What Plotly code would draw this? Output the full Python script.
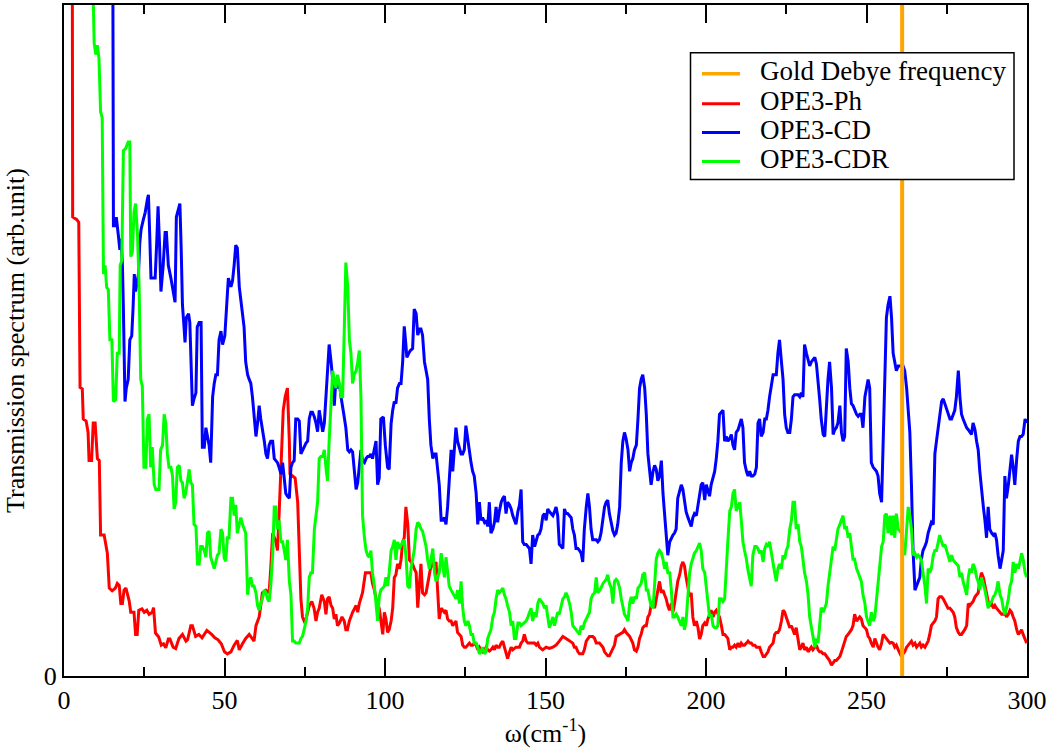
import plotly.graph_objects as go

# Transmission spectra (x in cm^-1, y in arb. units, axis top = 1)
DEBYE_FREQ = 261.1

OPE3_PH = [
    (2.0, 3.0), (2.7, 0.684), (4.0, 0.680), (4.6, 0.676), (5.0, 0.43), (5.7, 0.428), (6.0, 0.383), (6.9, 0.380),
    (7.5, 0.363), (7.8, 0.321), (8.6, 0.321), (9.1, 0.377), (9.7, 0.377), (10.4, 0.324), (11.0, 0.321), (11.4, 0.21),
    (12.5, 0.21), (13.5, 0.183), (14.1, 0.131), (15.0, 0.127), (16.0, 0.131), (16.6, 0.138), (17.2, 0.135), (17.7, 0.108),
    (18.2, 0.108), (18.7, 0.128), (19.3, 0.131), (20.3, 0.112), (20.8, 0.095), (21.8, 0.095), (22.3, 0.062), (22.8, 0.062),
    (23.3, 0.098), (24.3, 0.100), (25.0, 0.095), (25.8, 0.098), (26.5, 0.092), (27.5, 0.095), (27.9, 0.102), (28.5, 0.064),
    (29.5, 0.058), (30.3, 0.046), (31.0, 0.048), (31.7, 0.042), (32.5, 0.055), (33.0, 0.055), (34.0, 0.043), (34.8, 0.041),
    (35.8, 0.056), (36.9, 0.062), (38.0, 0.052), (38.5, 0.054), (39.5, 0.075), (40.0, 0.075), (41.0, 0.059), (42.0, 0.062),
    (43.0, 0.057), (44.5, 0.068), (46.0, 0.062), (47.0, 0.057), (48.0, 0.054), (49.0, 0.048), (50.0, 0.036),
    (50.9, 0.033), (52.0, 0.036), (53.0, 0.046), (54.0, 0.053), (54.6, 0.039), (55.6, 0.048), (56.6, 0.056), (57.7, 0.062),
    (58.7, 0.055), (59.2, 0.052), (59.8, 0.075), (60.8, 0.088), (61.3, 0.105), (61.8, 0.124), (62.9, 0.128), (63.9, 0.124),
    (64.4, 0.16), (65.0, 0.213), (66.0, 0.2), (66.5, 0.187), (67.0, 0.24), (67.6, 0.318), (68.3, 0.396), (68.9, 0.416),
    (69.6, 0.429), (70.2, 0.35), (70.4, 0.301), (71.2, 0.298), (72.0, 0.295), (72.8, 0.259), (73.3, 0.187), (73.8, 0.115),
    (74.3, 0.088), (74.8, 0.082), (75.4, 0.085), (75.9, 0.095), (76.4, 0.105), (77.2, 0.111), (77.9, 0.101), (78.5, 0.082),
    (79.0, 0.095), (79.5, 0.101), (80.3, 0.121), (81.1, 0.111), (81.6, 0.092), (82.1, 0.115), (82.6, 0.118), (83.2, 0.105),
    (83.7, 0.101), (84.2, 0.085), (84.7, 0.092), (85.2, 0.075), (85.8, 0.079), (86.6, 0.088), (87.3, 0.082), (87.8, 0.069),
    (88.3, 0.069), (88.9, 0.082), (89.9, 0.095), (91.0, 0.105), (91.5, 0.095), (92.0, 0.108), (93.0, 0.124), (93.9, 0.154),
    (94.9, 0.154), (95.6, 0.154), (96.1, 0.138), (96.7, 0.128), (97.2, 0.115), (98.2, 0.101),
    (99.3, 0.062), (99.8, 0.095), (100.3, 0.085), (100.8, 0.065), (101.3, 0.069), (101.9, 0.082), (102.4, 0.101), (102.9, 0.147),
    (103.4, 0.151), (103.9, 0.167), (104.5, 0.16), (105.0, 0.173), (105.5, 0.2), (106.0, 0.206), (106.5, 0.252), (107.1, 0.226),
    (107.6, 0.173), (108.1, 0.17), (108.6, 0.167), (109.1, 0.16), (109.7, 0.154), (110.2, 0.102), (110.7, 0.141), (111.2, 0.167),
    (111.7, 0.124), (112.3, 0.121), (112.8, 0.124), (113.3, 0.138), (113.8, 0.151), (114.3, 0.164), (114.9, 0.167), (115.4, 0.16),
    (115.9, 0.17), (116.4, 0.131), (116.9, 0.085), (117.5, 0.101), (118.0, 0.098), (118.5, 0.095), (119.0, 0.098), (119.5, 0.085),
    (120.0, 0.082), (120.6, 0.082), (121.1, 0.075), (121.6, 0.079), (122.1, 0.082), (122.6, 0.065), (123.2, 0.062), (123.7, 0.059),
    (124.2, 0.046), (124.7, 0.043), (125.2, 0.043), (125.8, 0.046), (126.3, 0.049), (126.8, 0.046), (127.3, 0.046), (127.8, 0.049),
    (128.4, 0.046), (128.9, 0.039), (129.4, 0.043), (129.9, 0.039), (130.4, 0.036), (131.0, 0.039), (131.5, 0.043), (132.0, 0.039),
    (132.5, 0.037), (133.0, 0.039), (133.6, 0.043), (134.1, 0.039), (134.6, 0.046), (135.1, 0.043), (135.6, 0.043), (136.2, 0.049),
    (136.7, 0.052), (137.2, 0.043), (137.7, 0.036), (138.2, 0.026), (138.8, 0.036), (139.3, 0.043), (139.8, 0.039), (140.8, 0.043),
    (141.9, 0.043), (142.4, 0.049), (142.9, 0.052), (143.4, 0.062), (144.0, 0.052), (144.5, 0.049), (145.5, 0.049), (146.6, 0.049),
    (147.1, 0.046), (147.6, 0.049),
    (148.1, 0.043), (149.1, 0.039), (150.2, 0.043), (151.2, 0.041), (152.3, 0.043), (153.3, 0.046), (154.3, 0.052), (155.4, 0.059),
    (156.4, 0.056), (157.5, 0.052), (158.5, 0.049), (159.0, 0.043), (159.5, 0.043), (160.1, 0.036), (160.6, 0.033), (161.6, 0.033),
    (162.1, 0.039), (162.7, 0.052), (163.7, 0.059), (164.7, 0.059), (165.3, 0.056), (165.8, 0.049), (166.8, 0.049), (167.9, 0.043),
    (168.4, 0.036), (168.9, 0.033), (169.4, 0.03), (169.9, 0.03), (170.5, 0.036), (171.0, 0.039), (171.5, 0.046), (172.0, 0.059),
    (173.1, 0.062), (174.1, 0.065), (174.6, 0.069), (175.1, 0.065), (176.2, 0.059), (177.2, 0.049), (177.7, 0.039), (178.3, 0.037),
    (178.8, 0.043), (179.3, 0.056), (179.8, 0.062), (180.3, 0.072), (180.9, 0.075), (181.4, 0.075), (181.9, 0.088), (182.4, 0.092),
    (182.9, 0.105), (183.5, 0.111), (184.0, 0.101), (184.5, 0.115), (185.0, 0.128), (185.5, 0.141), (186.1, 0.124), (186.6, 0.128),
    (187.1, 0.121), (187.6, 0.115), (188.1, 0.105), (188.6, 0.098), (189.2, 0.108), (189.7, 0.095), (190.2, 0.108), (190.7, 0.128),
    (191.2, 0.141), (191.8, 0.151), (192.3, 0.164), (192.8, 0.17), (193.3, 0.164), (193.8, 0.147), (194.4, 0.131), (194.9, 0.118),
    (195.4, 0.124), (195.9, 0.088), (196.4, 0.075), (197.0, 0.082), (197.5, 0.072),
    (198.0, 0.055), (198.5, 0.062), (199.0, 0.075), (199.6, 0.079), (200.1, 0.075), (200.6, 0.085), (201.1, 0.092), (201.6, 0.098),
    (202.2, 0.088), (202.7, 0.095), (203.2, 0.098), (203.7, 0.092), (204.2, 0.088), (204.8, 0.075), (205.3, 0.062), (205.8, 0.062),
    (206.3, 0.059), (206.8, 0.056), (207.4, 0.039), (207.9, 0.043), (208.4, 0.043), (208.9, 0.046), (209.4, 0.043), (210.0, 0.049),
    (210.5, 0.043), (211.0, 0.049), (211.5, 0.046), (212.0, 0.046), (212.6, 0.049), (213.1, 0.052), (213.6, 0.049), (214.1, 0.049),
    (214.6, 0.046), (215.2, 0.046), (215.7, 0.043), (216.2, 0.043), (216.7, 0.043), (217.2, 0.036), (217.8, 0.029), (218.3, 0.029),
    (218.8, 0.033), (219.3, 0.036), (219.8, 0.043), (220.4, 0.046), (220.9, 0.049), (221.4, 0.062), (221.9, 0.065), (222.4, 0.065),
    (222.9, 0.069), (223.5, 0.082), (224.0, 0.098), (224.5, 0.095), (225.0, 0.088), (225.5, 0.082), (226.1, 0.072), (226.6, 0.075),
    (227.1, 0.069), (227.6, 0.062), (228.1, 0.072), (228.7, 0.056), (229.2, 0.039), (229.7, 0.043), (230.2, 0.049), (230.7, 0.039),
    (231.3, 0.043), (231.8, 0.036), (232.3, 0.039), (232.8, 0.043), (233.3, 0.039), (233.9, 0.043), (234.4, 0.046), (234.9, 0.039),
    (235.4, 0.036), (235.9, 0.036), (236.5, 0.033), (237.0, 0.033), (237.5, 0.029), (238.0, 0.026), (238.5, 0.023), (239.1, 0.016),
    (239.6, 0.02), (240.1, 0.023), (240.6, 0.023), (241.1, 0.026), (241.7, 0.029), (242.2, 0.036), (242.7, 0.043), (243.2, 0.049),
    (243.7, 0.059), (244.3, 0.062), (244.8, 0.065), (245.3, 0.069), (245.8, 0.075), (246.3, 0.092), (246.9, 0.082), (247.4, 0.085),
    (247.9, 0.088), (248.4, 0.085), (248.9, 0.075), (249.5, 0.072), (250.0, 0.069), (250.5, 0.059), (251.0, 0.056), (251.5, 0.049),
    (252.1, 0.043), (252.6, 0.056), (253.1, 0.049), (253.6, 0.043), (254.1, 0.039), (254.7, 0.049), (255.2, 0.062), (255.7, 0.059),
    (256.2, 0.056), (256.7, 0.052), (257.3, 0.049), (257.8, 0.05), (258.3, 0.049), (258.8, 0.043), (259.3, 0.046), (259.9, 0.039),
    (260.4, 0.033), (260.9, 0.029), (261.4, 0.033), (261.9, 0.036), (262.5, 0.043), (263.0, 0.046), (263.5, 0.049), (264.0, 0.052),
    (264.5, 0.046), (265.1, 0.049), (265.6, 0.043), (266.1, 0.046), (266.6, 0.049), (267.1, 0.043), (267.6, 0.046), (268.2, 0.043),
    (268.7, 0.049), (269.2, 0.052), (269.7, 0.062), (270.2, 0.075), (270.8, 0.079), (271.3, 0.082), (271.8, 0.088), (272.3, 0.115),
    (272.8, 0.118), (273.4, 0.118), (273.9, 0.115), (274.4, 0.111), (274.9, 0.105), (275.4, 0.101), (276.0, 0.101), (276.5, 0.098),
    (277.0, 0.095), (277.5, 0.088), (278.0, 0.072), (278.6, 0.065), (279.1, 0.062), (279.6, 0.062), (280.1, 0.065), (280.6, 0.069),
    (281.2, 0.075), (281.7, 0.108), (282.2, 0.105), (282.7, 0.108), (283.2, 0.111), (283.8, 0.118), (284.3, 0.121), (284.8, 0.124),
    (285.3, 0.141), (285.8, 0.154), (286.4, 0.147), (286.9, 0.134), (287.4, 0.121), (287.9, 0.111), (288.4, 0.105), (289.0, 0.108),
    (289.5, 0.101), (290.0, 0.105), (290.5, 0.101), (291.0, 0.098), (291.6, 0.095), (292.1, 0.092), (292.6, 0.092), (293.1, 0.095),
    (293.6, 0.088), (294.2, 0.092), (294.7, 0.098), (295.2, 0.095), (295.7, 0.088), (296.2, 0.082), (296.8, 0.069), (297.3, 0.062),
    (297.8, 0.065), (298.3, 0.069), (298.8, 0.062), (299.4, 0.056), (299.9, 0.049),
]

OPE3_CD = [
    (15.0, 1.5), (15.4, 0.671), (15.9, 0.671), (16.3, 0.684), (16.9, 0.658), (17.4, 0.635), (17.8, 0.652), (18.2, 0.612),
    (18.5, 0.547), (18.8, 0.482), (19.0, 0.409), (19.4, 0.429), (20.0, 0.442), (20.5, 0.501), (21.1, 0.507), (21.5, 0.547),
    (21.9, 0.599), (22.3, 0.573), (22.7, 0.586), (23.2, 0.599), (23.6, 0.645), (24.0, 0.665), (24.6, 0.678), (25.3, 0.691),
    (26.0, 0.711), (26.3, 0.717), (26.7, 0.658), (27.1, 0.593), (27.8, 0.593), (28.4, 0.593), (28.9, 0.648), (29.3, 0.7),
    (29.8, 0.638), (30.2, 0.573), (30.9, 0.612), (31.5, 0.661), (31.9, 0.661), (32.5, 0.612), (33.3, 0.593), (34.0, 0.573),
    (34.6, 0.557), (35.0, 0.684), (35.7, 0.697), (36.1, 0.704), (36.5, 0.638), (36.9, 0.553), (37.4, 0.52), (37.7, 0.497),
    (38.1, 0.534), (38.8, 0.54), (39.2, 0.527), (39.6, 0.449), (40.0, 0.403), (40.5, 0.413), (41.1, 0.422), (41.5, 0.52),
    (42.1, 0.527), (42.7, 0.527), (43.1, 0.341), (43.7, 0.341), (44.2, 0.37), (44.7, 0.357), (45.2, 0.344), (45.7, 0.318),
    (46.3, 0.416), (46.8, 0.436), (47.3, 0.449), (47.8, 0.449), (48.3, 0.501), (48.9, 0.514), (49.4, 0.494), (50.1, 0.507),
    (50.9, 0.586), (51.2, 0.593), (52.0, 0.58), (52.5, 0.589), (53.0, 0.612), (53.5, 0.642), (54.0, 0.638), (54.6, 0.58),
    (55.1, 0.56), (55.6, 0.54), (56.1, 0.52), (56.6, 0.468), (57.2, 0.449), (57.7, 0.442), (58.2, 0.436), (58.7, 0.416),
    (59.2, 0.383), (59.8, 0.357), (60.3, 0.377), (60.8, 0.403), (61.3, 0.383), (61.8, 0.37), (62.4, 0.35), (62.9, 0.331),
    (63.4, 0.324), (63.9, 0.344), (64.4, 0.35), (65.0, 0.35), (65.5, 0.324), (66.0, 0.321), (66.5, 0.318), (67.0, 0.311),
    (67.6, 0.301), (68.1, 0.318), (68.6, 0.298), (69.1, 0.272), (69.6, 0.268), (70.2, 0.265), (70.7, 0.311), (71.2, 0.318),
    (71.7, 0.321), (72.2, 0.383), (72.8, 0.383), (73.3, 0.38), (73.8, 0.331), (74.3, 0.337), (74.8, 0.341), (75.4, 0.347),
    (75.9, 0.35), (76.4, 0.383), (76.9, 0.393), (77.4, 0.393), (78.0, 0.386), (78.5, 0.377), (79.0, 0.364), (79.5, 0.396),
    (80.0, 0.38), (80.6, 0.364), (81.1, 0.377), (81.6, 0.416), (82.1, 0.462), (82.6, 0.494), (83.2, 0.468), (83.7, 0.442),
    (84.2, 0.403), (84.7, 0.442), (85.2, 0.429), (85.8, 0.436), (86.3, 0.416), (86.8, 0.403), (87.3, 0.386), (87.8, 0.37),
    (88.4, 0.337), (88.9, 0.334), (89.4, 0.337), (89.9, 0.334), (90.4, 0.311), (91.0, 0.278), (91.5, 0.288), (92.0, 0.318),
    (92.5, 0.337), (93.0, 0.321), (93.6, 0.318), (94.1, 0.324), (94.6, 0.327), (95.1, 0.327), (95.6, 0.331), (96.1, 0.324),
    (96.7, 0.337), (97.2, 0.35), (97.7, 0.285), (98.2, 0.295),
    (98.7, 0.383), (99.5, 0.386), (100.1, 0.344), (100.8, 0.311), (101.3, 0.308), (101.9, 0.376), (102.4, 0.396), (102.9, 0.409),
    (103.4, 0.406), (103.9, 0.429), (104.5, 0.436), (105.0, 0.436), (105.5, 0.468), (106.0, 0.521), (106.5, 0.494), (106.8, 0.475),
    (107.4, 0.481), (107.9, 0.485), (108.6, 0.488), (109.1, 0.547), (109.7, 0.54), (110.2, 0.508), (110.7, 0.517), (111.2, 0.517),
    (111.7, 0.508), (112.3, 0.468), (112.8, 0.455), (113.3, 0.442), (113.8, 0.383), (114.3, 0.344), (114.9, 0.324), (115.4, 0.331),
    (115.9, 0.331), (116.4, 0.311), (116.9, 0.285), (117.5, 0.232), (118.0, 0.232), (118.5, 0.236), (119.0, 0.226), (119.5, 0.252),
    (120.0, 0.291), (120.6, 0.337), (121.1, 0.305), (121.6, 0.344), (122.1, 0.37), (122.6, 0.35), (123.2, 0.337), (123.7, 0.331),
    (124.2, 0.331), (124.7, 0.337), (125.2, 0.373), (125.8, 0.35), (126.3, 0.331), (126.8, 0.318), (127.3, 0.305), (127.8, 0.298),
    (128.4, 0.272), (128.9, 0.226), (129.4, 0.259), (129.9, 0.232), (130.4, 0.236), (131.0, 0.229), (131.5, 0.232), (132.0, 0.223),
    (132.5, 0.259), (133.0, 0.213), (133.6, 0.219), (134.1, 0.229), (134.6, 0.252), (135.1, 0.229), (135.6, 0.245), (136.2, 0.259),
    (136.7, 0.265), (137.2, 0.268), (137.7, 0.242), (138.2, 0.259), (138.8, 0.255), (139.3, 0.249), (139.8, 0.239), (140.3, 0.232),
    (140.8, 0.226), (141.4, 0.245), (141.9, 0.255), (142.4, 0.278), (142.9, 0.2), (143.4, 0.196), (144.0, 0.196), (144.5, 0.193),
    (145.0, 0.19), (145.5, 0.167), (146.0, 0.21), (146.6, 0.193), (147.1, 0.2), (147.6, 0.21),
    (148.1, 0.212), (148.6, 0.219), (149.2, 0.239), (149.7, 0.242), (150.2, 0.232), (150.7, 0.249), (151.2, 0.245), (151.7, 0.242),
    (152.3, 0.239), (152.8, 0.245), (153.3, 0.252), (153.8, 0.239), (154.3, 0.196), (154.9, 0.193), (155.4, 0.19), (155.9, 0.249),
    (156.4, 0.242), (156.9, 0.242), (157.5, 0.239), (158.0, 0.236), (158.5, 0.219), (159.0, 0.21), (159.5, 0.19), (160.1, 0.19),
    (160.6, 0.187), (161.1, 0.183), (161.6, 0.17), (162.1, 0.219), (162.7, 0.252), (163.2, 0.272), (163.7, 0.252), (164.2, 0.219),
    (164.7, 0.203), (165.3, 0.203), (165.8, 0.203), (166.3, 0.2), (166.8, 0.203), (167.3, 0.213), (167.9, 0.239), (168.4, 0.252),
    (168.9, 0.259), (169.4, 0.262), (169.9, 0.242), (170.5, 0.226), (171.0, 0.216), (171.5, 0.21), (172.0, 0.213), (172.5, 0.226),
    (173.1, 0.252), (173.6, 0.318), (174.1, 0.35), (174.6, 0.363), (175.1, 0.354), (175.7, 0.337), (176.2, 0.305), (176.7, 0.318),
    (177.2, 0.324), (177.7, 0.337), (178.3, 0.344), (178.8, 0.383), (179.3, 0.429), (179.8, 0.442), (180.3, 0.449), (180.9, 0.429),
    (181.4, 0.39), (181.9, 0.331), (182.4, 0.311), (182.9, 0.285), (183.5, 0.305), (184.0, 0.314), (184.5, 0.308), (185.0, 0.291),
    (185.5, 0.298), (186.1, 0.321), (186.6, 0.272), (187.1, 0.245), (187.6, 0.213), (188.1, 0.18), (188.7, 0.2), (189.2, 0.206),
    (189.7, 0.21), (190.2, 0.213), (190.7, 0.219), (191.2, 0.265), (191.8, 0.278), (192.3, 0.285), (192.8, 0.278), (193.3, 0.262),
    (193.8, 0.245), (194.4, 0.236), (194.9, 0.229), (195.4, 0.223), (195.9, 0.236), (196.4, 0.242), (197.0, 0.239), (197.5, 0.255),
    (198.0, 0.27), (198.5, 0.285), (199.0, 0.288), (199.6, 0.262), (200.1, 0.285), (200.6, 0.275), (201.1, 0.268), (201.6, 0.285),
    (202.2, 0.298), (202.7, 0.305), (203.2, 0.324), (203.7, 0.35), (204.2, 0.39), (204.8, 0.393), (205.3, 0.396), (205.8, 0.35),
    (206.3, 0.357), (206.8, 0.35), (207.4, 0.354), (207.9, 0.36), (208.4, 0.344), (208.9, 0.337), (209.4, 0.363), (210.0, 0.367),
    (210.5, 0.377), (211.0, 0.383), (211.5, 0.37), (212.0, 0.318), (212.6, 0.305), (213.1, 0.298), (213.6, 0.305), (214.1, 0.298),
    (214.6, 0.298), (215.2, 0.301), (215.7, 0.311), (216.2, 0.377), (216.7, 0.383), (217.2, 0.357), (217.8, 0.363), (218.3, 0.383),
    (218.8, 0.383), (219.3, 0.396), (219.8, 0.416), (220.4, 0.436), (220.9, 0.449), (221.4, 0.449), (221.9, 0.449), (222.4, 0.481),
    (222.9, 0.501), (223.5, 0.468), (224.0, 0.442), (224.5, 0.39), (225.0, 0.37), (225.5, 0.363), (226.1, 0.363), (226.6, 0.383),
    (227.1, 0.416), (227.6, 0.419), (228.1, 0.419), (228.7, 0.419), (229.2, 0.416), (229.7, 0.422), (230.2, 0.416), (230.7, 0.494),
    (231.3, 0.481), (231.8, 0.471), (232.3, 0.462), (232.8, 0.468), (233.3, 0.471), (233.9, 0.475), (234.4, 0.465), (234.9, 0.442),
    (235.4, 0.413), (235.9, 0.383), (236.5, 0.36), (237.0, 0.357), (237.5, 0.403), (238.0, 0.442), (238.5, 0.468), (239.1, 0.429),
    (239.6, 0.36), (240.1, 0.367), (240.6, 0.37), (241.1, 0.377), (241.7, 0.403), (242.2, 0.363), (242.7, 0.35), (243.2, 0.357),
    (243.7, 0.488), (244.3, 0.468), (244.8, 0.429), (245.3, 0.406), (245.8, 0.403), (246.3, 0.396), (246.9, 0.39), (247.4, 0.387),
    (247.9, 0.39), (248.4, 0.39), (248.9, 0.37), (249.5, 0.416), (250.0, 0.429), (250.5, 0.442), (251.0, 0.429), (251.5, 0.318),
    (252.1, 0.311), (252.6, 0.308), (253.1, 0.305), (253.6, 0.298), (254.1, 0.272), (254.7, 0.259), (255.2, 0.35), (255.7, 0.481),
    (256.2, 0.534), (256.7, 0.553), (257.3, 0.566), (257.8, 0.534), (258.3, 0.481), (258.8, 0.468), (259.3, 0.455), (259.9, 0.462),
    (260.4, 0.462), (260.9, 0.463), (261.4, 0.462), (261.9, 0.455), (262.5, 0.429), (263.0, 0.396), (263.5, 0.363), (264.0, 0.285),
    (264.5, 0.187), (265.1, 0.128), (265.6, 0.134), (266.1, 0.141), (266.6, 0.147), (267.1, 0.174), (267.6, 0.187), (268.2, 0.193),
    (268.7, 0.2), (269.2, 0.213), (269.7, 0.223), (270.2, 0.229), (270.8, 0.226), (271.3, 0.331), (271.8, 0.35), (272.3, 0.37),
    (272.8, 0.39), (273.4, 0.409), (273.9, 0.413), (274.4, 0.406), (274.9, 0.396), (275.4, 0.39), (276.0, 0.383), (276.5, 0.383),
    (277.0, 0.39), (277.5, 0.396), (278.0, 0.416), (278.6, 0.455), (279.1, 0.416), (279.6, 0.39), (280.1, 0.383), (280.6, 0.377),
    (281.2, 0.37), (281.7, 0.367), (282.2, 0.363), (282.7, 0.36), (283.2, 0.377), (283.8, 0.367), (284.3, 0.35), (284.8, 0.337),
    (285.3, 0.305), (285.8, 0.278), (286.4, 0.252), (286.9, 0.232), (287.4, 0.206), (287.9, 0.252), (288.4, 0.219), (289.0, 0.213),
    (289.5, 0.21), (290.0, 0.213), (290.5, 0.203), (291.0, 0.18), (291.6, 0.16), (292.1, 0.173), (292.6, 0.187), (293.1, 0.298),
    (293.6, 0.265), (294.2, 0.285), (294.7, 0.311), (295.2, 0.33), (295.7, 0.311), (296.2, 0.285), (296.8, 0.324), (297.3, 0.35),
    (297.8, 0.357), (298.3, 0.357), (298.8, 0.36), (299.4, 0.383), (299.9, 0.377),
]

OPE3_CDR = [
    (8.7, 1.1), (9.4, 0.943), (9.9, 0.926), (10.4, 0.94), (10.9, 0.92), (11.4, 0.841), (11.9, 0.832), (12.3, 0.599),
    (12.8, 0.612), (13.3, 0.579), (13.8, 0.576), (14.3, 0.501), (14.9, 0.501), (15.4, 0.409), (16.1, 0.412), (16.6, 0.481),
    (17.2, 0.481), (17.5, 0.612), (18.0, 0.619), (18.5, 0.783), (19.2, 0.786), (20.0, 0.796), (20.5, 0.796), (20.8, 0.625),
    (21.3, 0.632), (21.8, 0.691), (22.3, 0.704), (22.9, 0.658), (23.4, 0.58), (23.9, 0.442), (24.4, 0.432), (24.9, 0.311),
    (25.5, 0.311), (26.0, 0.383), (26.5, 0.39), (27.0, 0.311), (27.5, 0.341), (28.1, 0.285), (28.6, 0.278), (29.1, 0.278),
    (29.6, 0.278), (30.1, 0.337), (30.7, 0.344), (31.2, 0.39), (31.7, 0.377), (32.2, 0.331), (32.7, 0.311), (33.3, 0.311),
    (33.8, 0.298), (34.3, 0.249), (34.8, 0.259), (35.3, 0.311), (35.9, 0.314), (36.4, 0.291), (36.9, 0.288), (37.4, 0.265),
    (37.9, 0.272), (38.5, 0.291), (39.0, 0.308), (39.5, 0.288), (40.0, 0.285), (40.5, 0.226), (41.1, 0.223), (41.6, 0.167),
    (42.1, 0.167), (42.6, 0.193), (43.1, 0.193), (43.7, 0.187), (44.2, 0.177), (44.7, 0.213), (45.2, 0.216), (45.7, 0.177),
    (46.3, 0.167), (46.8, 0.16), (47.3, 0.17), (47.8, 0.18), (48.3, 0.183), (48.9, 0.219), (49.4, 0.213), (49.9, 0.176),
    (50.4, 0.171), (50.9, 0.206), (51.4, 0.206), (52.0, 0.265), (52.5, 0.265), (53.0, 0.239), (53.5, 0.255), (54.0, 0.213),
    (54.6, 0.226), (55.1, 0.236), (55.6, 0.226), (56.1, 0.219), (56.6, 0.213), (57.2, 0.121), (57.7, 0.141), (58.2, 0.147),
    (58.7, 0.134), (59.2, 0.134), (59.8, 0.124), (60.3, 0.105), (60.8, 0.098), (61.3, 0.108), (61.8, 0.115), (62.4, 0.128),
    (62.9, 0.124), (63.4, 0.115), (63.9, 0.111), (64.4, 0.134), (65.0, 0.18), (65.5, 0.252), (66.0, 0.252), (66.5, 0.219),
    (67.0, 0.232), (67.6, 0.2), (68.1, 0.2), (68.6, 0.187), (69.1, 0.173), (69.6, 0.203), (70.2, 0.141), (70.7, 0.121),
    (71.2, 0.052), (71.7, 0.052), (72.2, 0.049), (72.8, 0.049), (73.3, 0.049), (73.8, 0.056), (74.3, 0.059), (74.8, 0.069),
    (75.4, 0.082), (75.9, 0.101), (76.4, 0.147), (76.9, 0.154), (77.4, 0.154), (78.0, 0.219), (78.5, 0.239), (79.0, 0.259),
    (79.5, 0.324), (80.0, 0.327), (80.6, 0.327), (81.1, 0.337), (81.6, 0.311), (82.1, 0.291), (82.6, 0.35), (83.2, 0.403),
    (83.7, 0.455), (84.2, 0.442), (84.7, 0.429), (85.2, 0.449), (85.8, 0.436), (86.3, 0.416), (86.8, 0.416), (87.3, 0.514),
    (87.8, 0.616), (88.4, 0.58), (88.9, 0.501), (89.4, 0.481), (89.9, 0.436), (90.4, 0.449), (91.0, 0.455), (91.5, 0.468),
    (92.0, 0.485), (92.5, 0.416), (93.0, 0.239), (93.6, 0.206), (94.1, 0.187), (94.6, 0.18), (95.1, 0.177), (95.6, 0.187),
    (96.1, 0.154), (96.7, 0.134), (97.2, 0.108), (97.7, 0.082), (98.2, 0.118),
    (98.7, 0.128), (99.3, 0.131), (99.8, 0.134), (100.3, 0.147), (100.8, 0.134), (101.3, 0.154), (101.9, 0.187), (102.4, 0.193),
    (102.9, 0.203), (103.4, 0.173), (103.9, 0.2), (104.5, 0.19), (105.0, 0.196), (105.5, 0.2), (106.0, 0.203), (106.5, 0.18),
    (107.1, 0.134), (107.6, 0.131), (108.1, 0.16), (108.6, 0.173), (109.1, 0.187), (109.7, 0.219), (110.2, 0.229), (110.7, 0.226),
    (111.2, 0.219), (111.7, 0.216), (112.3, 0.203), (112.8, 0.193), (113.3, 0.173), (113.8, 0.16), (114.3, 0.173), (114.9, 0.19),
    (115.4, 0.154), (115.9, 0.141), (116.4, 0.147), (116.9, 0.154), (117.5, 0.183), (118.0, 0.167), (118.5, 0.147), (119.0, 0.177),
    (119.5, 0.154), (120.0, 0.134), (120.6, 0.128), (121.1, 0.124), (121.6, 0.121), (122.1, 0.115), (122.6, 0.128), (123.2, 0.108),
    (123.7, 0.141), (124.2, 0.102), (124.7, 0.082), (125.2, 0.075), (125.8, 0.082), (126.3, 0.075), (126.8, 0.062), (127.3, 0.062),
    (127.8, 0.049), (128.4, 0.049), (128.9, 0.043), (129.4, 0.033), (129.9, 0.036), (130.4, 0.043), (131.0, 0.033), (131.5, 0.036),
    (132.0, 0.056), (132.5, 0.062), (133.0, 0.069), (133.6, 0.088), (134.1, 0.095), (134.6, 0.115), (135.1, 0.128), (135.6, 0.124),
    (136.2, 0.128), (136.7, 0.131), (137.2, 0.121), (137.7, 0.115), (138.2, 0.105), (138.8, 0.095), (139.3, 0.075), (139.8, 0.082),
    (140.3, 0.056), (140.8, 0.056), (141.4, 0.079), (141.9, 0.079), (142.4, 0.075), (142.9, 0.077), (143.4, 0.079), (144.0, 0.082),
    (144.5, 0.088), (145.0, 0.095), (145.5, 0.101), (146.0, 0.082), (146.6, 0.095), (147.1, 0.088), (147.6, 0.108),
    (148.1, 0.115), (148.6, 0.111), (149.2, 0.108), (149.7, 0.101), (150.2, 0.105), (150.7, 0.088), (151.2, 0.072), (151.7, 0.079),
    (152.3, 0.088), (152.8, 0.075), (153.3, 0.088), (153.8, 0.095), (154.3, 0.092), (154.9, 0.108), (155.4, 0.115), (155.9, 0.118),
    (156.4, 0.124), (156.9, 0.118), (157.5, 0.108), (158.0, 0.095), (158.5, 0.075), (159.0, 0.072), (159.5, 0.069), (160.1, 0.065),
    (160.6, 0.062), (161.1, 0.075), (161.6, 0.069), (162.1, 0.079), (162.7, 0.085), (163.2, 0.088), (163.7, 0.095), (164.2, 0.115),
    (164.7, 0.121), (165.3, 0.124), (165.8, 0.147), (166.3, 0.124), (166.8, 0.128), (167.3, 0.131), (167.9, 0.138), (168.4, 0.141),
    (168.9, 0.144), (169.4, 0.151), (169.9, 0.138), (170.5, 0.131), (171.0, 0.108), (171.5, 0.141), (172.0, 0.144), (172.5, 0.141),
    (173.1, 0.131), (173.6, 0.115), (174.1, 0.105), (174.6, 0.092), (175.1, 0.088), (175.7, 0.082), (176.2, 0.108), (176.7, 0.118),
    (177.2, 0.108), (177.7, 0.118), (178.3, 0.115), (178.8, 0.131), (179.3, 0.134), (179.8, 0.138), (180.3, 0.151), (180.9, 0.154),
    (181.4, 0.128), (181.9, 0.128), (182.4, 0.115), (182.9, 0.105), (183.5, 0.101), (184.0, 0.147), (184.5, 0.174), (185.0, 0.183),
    (185.5, 0.187), (186.1, 0.183), (186.6, 0.174), (187.1, 0.16), (187.6, 0.17), (188.1, 0.154), (188.7, 0.154), (189.2, 0.128),
    (189.7, 0.088), (190.2, 0.088), (190.7, 0.092), (191.2, 0.088), (191.8, 0.082), (192.3, 0.075), (192.8, 0.088), (193.3, 0.069),
    (193.8, 0.082), (194.4, 0.128), (194.9, 0.154), (195.4, 0.167), (195.9, 0.174), (196.4, 0.183), (197.0, 0.187), (197.5, 0.193),
    (198.0, 0.198), (198.5, 0.187), (199.0, 0.16), (199.6, 0.154), (200.1, 0.128), (200.6, 0.108), (201.1, 0.088), (201.6, 0.092),
    (202.2, 0.075), (202.7, 0.072), (203.2, 0.072), (203.7, 0.075), (204.2, 0.115), (204.8, 0.115), (205.3, 0.111), (205.8, 0.115),
    (206.3, 0.167), (206.8, 0.2), (207.4, 0.246), (207.9, 0.252), (208.4, 0.272), (208.9, 0.278), (209.4, 0.246), (210.0, 0.252),
    (210.5, 0.259), (211.0, 0.232), (211.5, 0.2), (212.0, 0.187), (212.6, 0.174), (213.1, 0.157), (213.6, 0.147), (214.1, 0.134),
    (214.6, 0.18), (215.2, 0.193), (215.7, 0.193), (216.2, 0.19), (216.7, 0.183), (217.2, 0.187), (217.8, 0.17), (218.3, 0.19),
    (218.8, 0.196), (219.3, 0.193), (219.8, 0.2), (220.4, 0.18), (220.9, 0.167), (221.4, 0.154), (221.9, 0.141), (222.4, 0.16),
    (222.9, 0.167), (223.5, 0.16), (224.0, 0.18), (224.5, 0.174), (225.0, 0.187), (225.5, 0.193), (226.1, 0.219), (226.6, 0.232),
    (227.1, 0.259), (227.6, 0.259), (228.1, 0.219), (228.7, 0.226), (229.2, 0.2), (229.7, 0.193), (230.2, 0.174), (230.7, 0.154),
    (231.3, 0.141), (231.8, 0.121), (232.3, 0.088), (232.8, 0.075), (233.3, 0.056), (233.9, 0.043), (234.4, 0.056), (234.9, 0.049),
    (235.4, 0.075), (235.9, 0.102), (236.5, 0.095), (237.0, 0.102), (237.5, 0.108), (238.0, 0.134), (238.5, 0.154), (239.1, 0.18),
    (239.6, 0.193), (240.1, 0.187), (240.6, 0.206), (241.1, 0.219), (241.7, 0.226), (242.2, 0.232), (242.7, 0.239), (243.2, 0.219),
    (243.7, 0.223), (244.3, 0.206), (244.8, 0.213), (245.3, 0.193), (245.8, 0.174), (246.3, 0.174), (246.9, 0.16), (247.4, 0.154),
    (247.9, 0.148), (248.4, 0.141), (248.9, 0.121), (249.5, 0.108), (250.0, 0.088), (250.5, 0.082), (251.0, 0.075), (251.5, 0.095),
    (252.1, 0.082), (252.6, 0.088), (253.1, 0.115), (253.6, 0.141), (254.1, 0.16), (254.7, 0.193), (255.2, 0.2), (255.7, 0.239),
    (256.2, 0.242), (256.7, 0.213), (257.3, 0.239), (257.8, 0.21), (258.3, 0.239), (258.8, 0.206), (259.3, 0.242), (259.9, 0.219),
    (260.4, 0.216), (260.9, 0.213), (261.4, 0.187), (261.9, 0.18), (262.5, 0.219), (263.0, 0.252), (263.5, 0.239), (264.0, 0.219),
    (264.5, 0.18), (265.1, 0.183), (265.6, 0.177), (266.1, 0.18), (266.6, 0.177), (267.1, 0.173), (267.6, 0.154), (268.2, 0.134),
    (268.7, 0.108), (269.2, 0.16), (269.7, 0.154), (270.2, 0.16), (270.8, 0.18), (271.3, 0.187), (271.8, 0.187), (272.3, 0.2),
    (272.8, 0.21), (273.4, 0.2), (273.9, 0.193), (274.4, 0.196), (274.9, 0.187), (275.4, 0.18), (276.0, 0.17), (276.5, 0.18),
    (277.0, 0.173), (277.5, 0.17), (278.0, 0.167), (278.6, 0.164), (279.1, 0.147), (279.6, 0.154), (280.1, 0.141), (280.6, 0.131),
    (281.2, 0.121), (281.7, 0.147), (282.2, 0.16), (282.7, 0.154), (283.2, 0.167), (283.8, 0.16), (284.3, 0.147), (284.8, 0.141),
    (285.3, 0.128), (285.8, 0.147), (286.4, 0.138), (286.9, 0.128), (287.4, 0.115), (287.9, 0.101), (288.4, 0.108), (289.0, 0.111),
    (289.5, 0.118), (290.0, 0.121), (290.5, 0.128), (291.0, 0.141), (291.6, 0.121), (292.1, 0.115), (292.6, 0.101), (293.1, 0.092),
    (293.6, 0.101), (294.2, 0.115), (294.7, 0.134), (295.2, 0.141), (295.7, 0.17), (296.2, 0.154), (296.8, 0.167), (297.3, 0.16),
    (297.8, 0.17), (298.3, 0.183), (298.8, 0.174), (299.4, 0.154), (299.9, 0.147),
]

SERIF = "Liberation Serif"

# plot area in pixels (used to place the hand-drawn legend box)
PLOT_L, PLOT_R, PLOT_T, PLOT_B = 64, 1027, 3, 676


def px_x(p):
    return (p - PLOT_L) / (PLOT_R - PLOT_L)


def px_y(p):
    return (PLOT_B - p) / (PLOT_B - PLOT_T)


SERIES = [
    ("Gold Debye frequency", "#ffa500", 4),
    ("OPE3-Ph", "#ff0000", 3),
    ("OPE3-CD", "#0000ff", 3),
    ("OPE3-CDR", "#00ff00", 3),
]

fig = go.Figure()

for (name, color, width), pts in zip(SERIES[1:], [OPE3_PH, OPE3_CD, OPE3_CDR]):
    xs, ys = zip(*pts)
    fig.add_trace(go.Scatter(x=xs, y=ys, mode="lines", name=name,
                             line=dict(color=color, width=width)))

# vertical marker for the gold Debye frequency
fig.add_trace(go.Scatter(x=[DEBYE_FREQ, DEBYE_FREQ], y=[0, 1.2], mode="lines",
                         name=SERIES[0][0], line=dict(color=SERIES[0][1], width=SERIES[0][2])))

# legend box drawn by hand so that spacing matches the xmgrace original
shapes = [dict(type="rect", xref="paper", yref="paper",
               x0=px_x(690.5), x1=px_x(1014), y0=px_y(178), y1=px_y(51),
               line=dict(color="black", width=1.5), fillcolor="white", layer="above")]
annotations = []
for (name, color, width), row in zip(SERIES, [72, 102, 131, 160]):
    shapes.append(dict(type="line", xref="paper", yref="paper",
                       x0=px_x(702), x1=px_x(740), y0=px_y(row), y1=px_y(row),
                       line=dict(color=color, width=min(width, 3.5)), layer="above"))
    annotations.append(dict(text=name, xref="paper", yref="paper", x=px_x(758), y=px_y(row - 3),
                            xanchor="left", yanchor="middle", showarrow=False,
                            font=dict(family=SERIF, size=27, color="black")))

fig.update_layout(
    width=1056, height=753,
    margin=dict(l=PLOT_L, r=1056 - PLOT_R, t=PLOT_T, b=753 - PLOT_B),
    paper_bgcolor="white", plot_bgcolor="white",
    font=dict(family=SERIF, size=26, color="black"),
    showlegend=False,
    shapes=shapes,
    annotations=annotations,
    xaxis=dict(
        range=[0, 300], tick0=0, dtick=50,
        ticks="inside", ticklen=18, tickwidth=1.5, tickcolor="black",
        minor=dict(dtick=25, ticks="inside", ticklen=9, tickwidth=1.5, tickcolor="black"),
        showline=True, linecolor="black", linewidth=2, mirror="allticks",
        showgrid=False, zeroline=False,
        tickfont=dict(family=SERIF, size=26),
        title=dict(text="ω(cm<sup>-1</sup>)", font=dict(family=SERIF, size=26), standoff=8),
    ),
    yaxis=dict(
        range=[0, 1], tickvals=[0], ticktext=["0"], ticks="",
        showline=True, linecolor="black", linewidth=2, mirror=True,
        showgrid=False, zeroline=False,
        tickfont=dict(family=SERIF, size=26),
        title=dict(text="Transmission spectrum (arb.unit)", font=dict(family=SERIF, size=26), standoff=12),
    ),
)

fig.write_html("out.html", config={"displayModeBar": False},
               post_script="document.body.style.margin='0';document.body.style.overflow='hidden';")
